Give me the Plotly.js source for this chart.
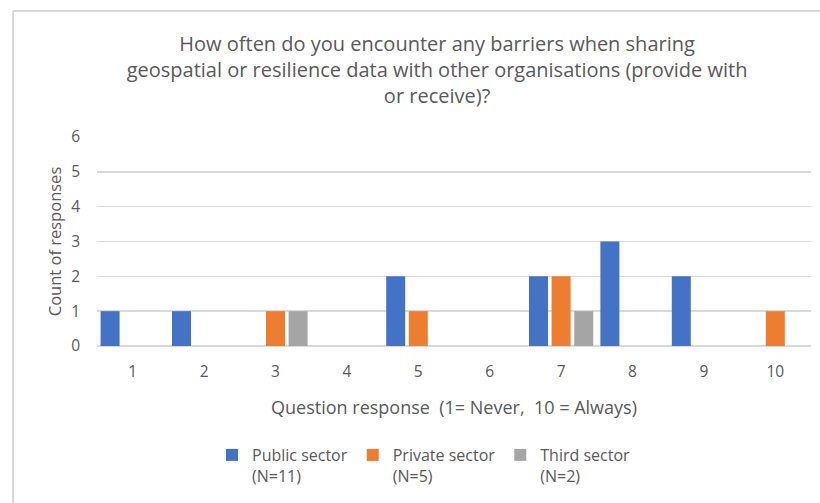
<!DOCTYPE html>
<html>
<head>
<meta charset="utf-8">
<script src="https://cdn.plot.ly/plotly-3.0.1.min.js"></script>
<style>html,body{margin:0;padding:0;background:#fff;}#chart{width:820px;height:503px;}</style>
</head>
<body>
<div id="chart"></div>
<script>
const categories = ["1","2","3","4","5","6","7","8","9","10"];
const publicSector = [1,1,0,0,2,0,2,3,2,0];
const privateSector = [0,0,1,0,1,0,2,0,0,1];
const thirdSector = [0,0,1,0,0,0,1,0,0,0];
const seriesNames = ["Public sector<br>(N=11)","Private sector<br>(N=5)","Third sector<br>(N=2)"];
const yTicks = [0,1,2,3,4,5,6];

const FONT = "'Open Sans', Lato, sans-serif";
const GREY = "#595959";

const traces = [
  {type:"bar", x:categories, y:publicSector, name:seriesNames[0], marker:{color:"#4472C4", line:{width:0}}},
  {type:"bar", x:categories, y:privateSector, name:seriesNames[1], marker:{color:"#ED7D31", line:{width:0}}},
  {type:"bar", x:categories, y:thirdSector, name:seriesNames[2], marker:{color:"#A5A5A5", line:{width:0}}}
];

const W = 714, H = 209, L = 97, B = 346;
function px(x){return (x-L)/W;}
function py(y){return (B-y)/H;}

const layout = {
  width:820, height:503,
  margin:{l:97, r:9, t:137, b:157, pad:0},
  paper_bgcolor:"#fff", plot_bgcolor:"#fff",
  font:{family:FONT, color:GREY, size:14},
  title:{text:"How often do you encounter any barriers when sharing<br>geospatial or resilience data with other organisations (provide with<br>or receive)?",
    font:{family:FONT, size:20, color:GREY}, x:0.533, xanchor:"center", y:0.899, yanchor:"top"},
  barmode:"group", bargap:0.05, bargroupgap:0.16,
  xaxis:{type:"category", showgrid:false, zeroline:false, showline:false, ticks:"",
    tickfont:{family:FONT, size:15.5, color:GREY}, ticklabelstandoff:14,
    title:{text:"Question response\u00a0 (1= Never,\u00a0 10 = Always)", font:{family:FONT, size:18, color:GREY}, standoff:20}},
  yaxis:{range:[0,6], tickvals:yTicks, showgrid:true, gridcolor:"#d9d9d9", gridwidth:1.5,
    zeroline:true, zerolinecolor:"#d9d9d9", zerolinewidth:1.5, showline:false, ticks:"",
    tickfont:{family:FONT, size:15.5, color:GREY}, ticklabelstandoff:16,
    title:{text:"Count of responses", font:{family:FONT, size:16.5, color:GREY}, standoff:5}},
  legend:{orientation:"h", x:px(212), xanchor:"left", y:py(438), yanchor:"top",
    font:{family:FONT, size:16, color:GREY}, itemwidth:30, traceorder:"normal",
    valign:"top"},
  showlegend:true,
  shapes:[
    {type:"line", xref:"paper", yref:"paper", x0:px(13), x1:px(820), y0:py(11), y1:py(11), line:{color:"#d9d9d9", width:2}},
    {type:"line", xref:"paper", yref:"paper", x0:px(13), x1:px(13), y0:py(11), y1:py(503), line:{color:"#d9d9d9", width:2}}
  ]
};

Plotly.newPlot("chart", traces, layout, {displayModeBar:false, staticPlot:true});
</script>
</body>
</html>
